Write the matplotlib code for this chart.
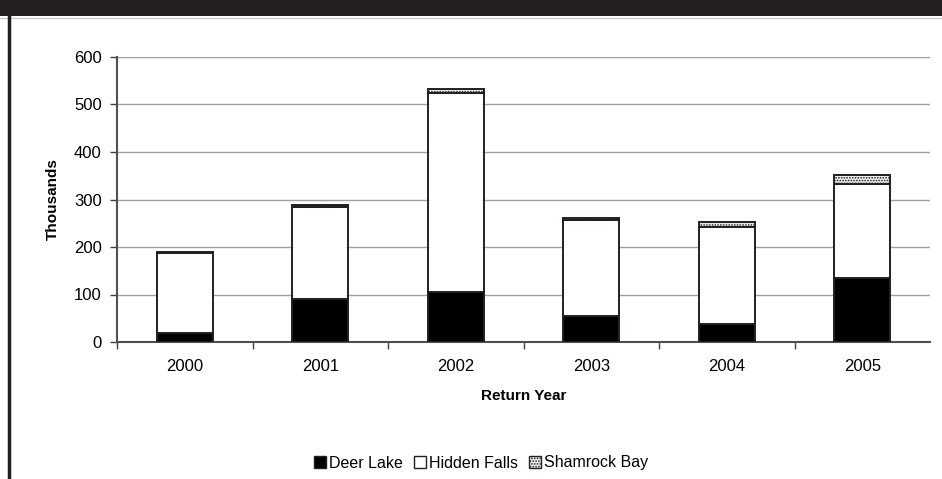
import matplotlib.pyplot as plt
import matplotlib.patches as mpatches
import numpy as np

years = ["2000", "2001", "2002", "2003", "2004", "2005"]
deer_lake = [20, 90, 106, 55, 37, 135]
hidden_falls = [168, 194, 419, 201, 206, 197]
shamrock_bay = [1, 4, 7, 5, 10, 19]

plt.rcParams['font.family'] = ['Liberation Sans', 'DejaVu Sans']
plt.rcParams['hatch.color'] = '#b8b8b8'
plt.rcParams['hatch.linewidth'] = 0.8

fig = plt.figure(figsize=(9.42, 4.79), dpi=100, facecolor='white')

# dark header band and left border
fig.patches.append(mpatches.Rectangle((0, 1 - 16 / 479), 1, 16 / 479, transform=fig.transFigure,
                                      facecolor='#231f20', edgecolor='none', zorder=0))
fig.lines.append(plt.Line2D([0, 1], [1 - 17.5 / 479] * 2, transform=fig.transFigure,
                            color='#c8c8c8', linewidth=1))
fig.lines.append(plt.Line2D([9 / 942] * 2, [0, 1 - 16 / 479], transform=fig.transFigure,
                            color='#231f20', linewidth=2.5))

ax = fig.add_axes([117 / 942, 1 - 342 / 479, (930 - 117) / 942, (342 - 57) / 479])

x = np.arange(len(years))
w = 0.41
edge = '#231f20'
sb_face = '#ececec'
bottom2 = np.array(deer_lake) + np.array(hidden_falls)

ax.bar(x, deer_lake, w, color='black', edgecolor=edge, linewidth=1.4, zorder=3)
ax.bar(x, hidden_falls, w, bottom=deer_lake, color='white', edgecolor=edge, linewidth=1.4, zorder=3)
ax.bar(x, shamrock_bay, w, bottom=bottom2, color=sb_face, edgecolor=edge, linewidth=1.4,
       hatch='......', zorder=3)

ax.set_xlim(-0.5, len(years) - 0.5)
ax.set_ylim(0, 600)
ax.set_yticks(range(0, 601, 100))
ax.yaxis.grid(True, color='#a0a0a0', linewidth=1, zorder=0)
ax.set_axisbelow(True)

ax.set_xticks(x)
ax.set_xticklabels(years, fontsize=12)
ax.set_xticks(np.arange(-0.5, len(years) - 1), minor=True)
ax.tick_params(axis='x', which='major', length=0, pad=12)
ax.tick_params(axis='x', which='minor', length=5, width=1, color='#404040', direction='out')
ax.tick_params(axis='y', length=5, width=1, color='#404040', labelsize=12, pad=6)

for s in ['top', 'right']:
    ax.spines[s].set_visible(False)
for s in ['left', 'bottom']:
    ax.spines[s].set_color('#505050')
    ax.spines[s].set_linewidth(1.5)

ax.set_xlabel("Return Year", fontsize=11, fontweight='bold', labelpad=11)
ax.set_ylabel("Thousands", fontsize=11, fontweight='bold', labelpad=10)

handles = [
    mpatches.Patch(facecolor='black', edgecolor=edge, linewidth=1, label='Deer Lake'),
    mpatches.Patch(facecolor='white', edgecolor=edge, linewidth=1, label='Hidden Falls'),
    mpatches.Patch(facecolor=sb_face, edgecolor=edge, linewidth=1, hatch='......', label='Shamrock Bay'),
]
fig.legend(handles=handles, loc='center', bbox_to_anchor=(481 / 942, 1 - 463 / 479), ncol=3,
           frameon=False, fontsize=11.5, handlelength=0.75, handleheight=0.75,
           handletextpad=0.2, columnspacing=0.7)

fig.savefig('out.png', dpi=100, facecolor='white')
